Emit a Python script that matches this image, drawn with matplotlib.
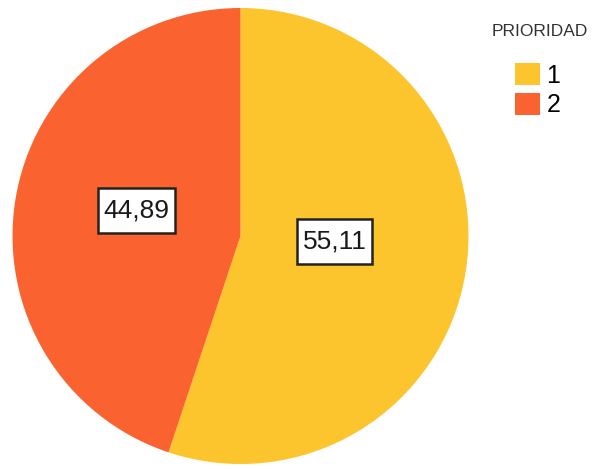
import matplotlib
matplotlib.use("Agg")
import matplotlib.pyplot as plt
import numpy as np
from matplotlib.patches import Rectangle

# Data
categories = ["1", "2"]
values = [55.11, 44.89]
value_labels = ["55,11", "44,89"]
legend_title = "PRIORIDAD"
colors = ["#FCC42D", "#FA6330"]

W, H = 594, 469
fig = plt.figure(figsize=(W / 100, H / 100), dpi=100)
ax = fig.add_axes([0, 0, 1, 1])

cx, cy, R = 240.5, H - 236, 228
wedges, _ = ax.pie(values, colors=colors, startangle=90, counterclock=False,
                   center=(cx, cy), radius=R, frame=True,
                   wedgeprops=dict(linewidth=0))
ax.set_xlim(0, W)
ax.set_ylim(0, H)
ax.set_aspect("equal")
ax.axis("off")

# label placement (distance as fraction of radius, angle shift in degrees)
label_dist = [0.415, 0.47]
label_shift = [5.6, -4.8]
texts = []
for w, lab, d, s in zip(wedges, value_labels, label_dist, label_shift):
    ang = np.deg2rad((w.theta1 + w.theta2) / 2 + s)
    x = cx + d * R * np.cos(ang)
    y = cy + d * R * np.sin(ang)
    t = ax.text(x, y, lab, ha="center", va="center", fontsize=19,
                family=["Liberation Sans", "DejaVu Sans"], color="#1a1a1a", zorder=5)
    texts.append(t)

fig.canvas.draw()
renderer = fig.canvas.get_renderer()
inv = ax.transData.inverted()
for t in texts:
    bb = t.get_window_extent(renderer)
    x0, y0 = inv.transform((bb.x0 - 5.5, bb.y0 - 10.5))
    x1, y1 = inv.transform((bb.x1 + 5.5, bb.y1 + 10.5))
    ax.add_patch(Rectangle((x0, y0), x1 - x0, y1 - y0, facecolor="white",
                           edgecolor="#222222", linewidth=1.8, zorder=4))

fig.text(540 / W, 1 - 31 / H, legend_title, ha="center", va="center",
         fontsize=12.5, family=["Liberation Sans", "DejaVu Sans"], color="#333333")

leg = fig.legend(wedges, categories, loc="upper left",
                 bbox_to_anchor=(515 / W, 1 - 63 / H), frameon=False,
                 prop=dict(family=["Liberation Sans", "DejaVu Sans"], size=18),
                 handlelength=1.0, handleheight=1.0, handletextpad=0.25,
                 labelspacing=0.2, borderpad=0, borderaxespad=0)

fig.savefig("out.png", dpi=100)
